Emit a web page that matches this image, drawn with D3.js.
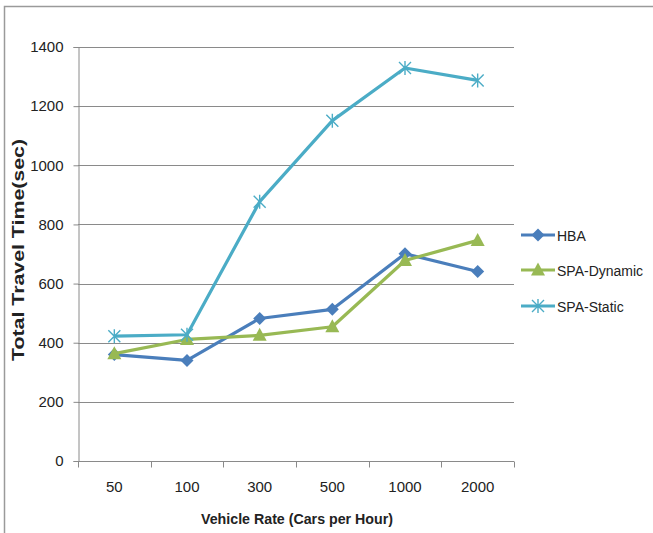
<!DOCTYPE html>
<html>
<head>
<meta charset="utf-8">
<script src="https://cdn.jsdelivr.net/npm/d3@7"></script>
<style>
  html, body { margin: 0; padding: 0; background: #fff; }
  svg text { font-family: "Liberation Sans", Arial, sans-serif; fill: #222; }
</style>
</head>
<body>
<svg id="chart" width="653" height="533"></svg>
<script>
// Vehicle rate categories and total travel time (sec) per routing method
const categories = ["50", "100", "300", "500", "1000", "2000"];
const hba        = [360, 340, 482, 513, 701, 641];
const spaDynamic = [363, 411, 425, 454, 678, 746];
const spaStatic  = [422, 427, 877, 1151, 1329, 1287];
const yTicks     = [0, 200, 400, 600, 800, 1000, 1200, 1400];

const series = [
  { name: "HBA",         values: hba,        color: "#4a7ebb", marker: "diamond" },
  { name: "SPA-Dynamic", values: spaDynamic, color: "#98b954", marker: "triangle" },
  { name: "SPA-Static",  values: spaStatic,  color: "#4bacc6", marker: "star" }
];

const svg = d3.select("#chart");
const plot = { left: 78, right: 514, top: 47, bottom: 461 };

const x = d3.scaleBand().domain(categories).range([plot.left, plot.right]);
const y = d3.scaleLinear().domain([0, 1400]).range([plot.bottom, plot.top]);

// outer frame
svg.append("path")
  .attr("d", "M4.5,533 V6.5 H653")
  .attr("fill", "none").attr("stroke", "#9a9a9a").attr("stroke-width", 1.5);

// horizontal gridlines
svg.append("g").selectAll("line").data(yTicks.filter(d => d > 0)).join("line")
  .attr("x1", plot.left).attr("x2", plot.right)
  .attr("y1", d => Math.round(y(d)) + 0.5).attr("y2", d => Math.round(y(d)) + 0.5)
  .attr("stroke", "#8a8a8a").attr("stroke-width", 1);

// y axis
const yAxis = svg.append("g").attr("transform", `translate(${plot.left + 0.5},0)`)
  .call(d3.axisLeft(y).tickValues(yTicks).tickSize(5).tickPadding(10).tickFormat(d3.format("d")));
yAxis.select(".domain").attr("stroke", "#8a8a8a");
yAxis.selectAll(".tick line").attr("stroke", "#8a8a8a");
yAxis.selectAll(".tick text").style("font-size", "15px").attr("fill", "#222");

// x axis with tick marks at category boundaries
const xAxis = svg.append("g").attr("transform", `translate(0,${Math.round(plot.bottom) + 0.5})`)
  .call(d3.axisBottom(x).tickSize(0).tickPadding(20));
xAxis.select(".domain").attr("stroke", "#8a8a8a").attr("d", `M${plot.left},0H${plot.right}`);
xAxis.selectAll(".tick text").style("font-size", "15px").attr("fill", "#222");
const bounds = categories.map(c => x(c)).concat([plot.right]);
xAxis.append("g").selectAll("line").data(bounds).join("line")
  .attr("x1", d => Math.round(d) + 0.5).attr("x2", d => Math.round(d) + 0.5)
  .attr("y1", 0).attr("y2", 6).attr("stroke", "#8a8a8a");

// axis titles
svg.append("text")
  .attr("transform", "translate(24,250) rotate(-90)")
  .attr("text-anchor", "middle").style("font-size", "16px").style("font-weight", "bold")
  .attr("textLength", 222).attr("lengthAdjust", "spacingAndGlyphs")
  .text("Total Travel Time(sec)");
svg.append("text")
  .attr("x", 297).attr("y", 524).attr("text-anchor", "middle")
  .style("font-size", "15px").style("font-weight", "bold")
  .attr("textLength", 192).attr("lengthAdjust", "spacingAndGlyphs")
  .text("Vehicle Rate (Cars per Hour)");

const cx = d => x(d) + x.bandwidth() / 2;

function drawMarker(g, type, color) {
  if (type === "diamond") {
    g.append("path").attr("d", "M0,-6.5L6.5,0L0,6.5L-6.5,0Z").attr("fill", color);
  } else if (type === "triangle") {
    g.append("path").attr("d", "M0,-7.5L7,5.5L-7,5.5Z").attr("fill", color);
  } else {
    g.append("path").attr("d", "M-6,-6L6,6M-6,6L6,-6M0,-7V7")
      .attr("stroke", color).attr("stroke-width", 1.4).attr("fill", "none");
  }
}

const line = d3.line().x((d, i) => cx(categories[i])).y(d => y(d));

series.forEach(s => {
  svg.append("path").datum(s.values)
    .attr("d", line).attr("fill", "none")
    .attr("stroke", s.color).attr("stroke-width", 3.2).attr("stroke-linejoin", "round");
  s.values.forEach((v, i) => {
    const g = svg.append("g").attr("transform", `translate(${cx(categories[i])},${y(v)})`);
    drawMarker(g, s.marker, s.color);
  });
});

// legend
const legendY = [235, 270, 306];
series.forEach((s, i) => {
  const g = svg.append("g").attr("transform", `translate(521,${legendY[i]})`);
  g.append("line").attr("x1", 0).attr("x2", 34).attr("y1", 0).attr("y2", 0)
    .attr("stroke", s.color).attr("stroke-width", 3.2);
  const m = g.append("g").attr("transform", "translate(17,0)");
  drawMarker(m, s.marker, s.color);
  g.append("text").attr("x", 36).attr("y", 5.5).style("font-size", "14px").text(s.name);
});
</script>
</body>
</html>
